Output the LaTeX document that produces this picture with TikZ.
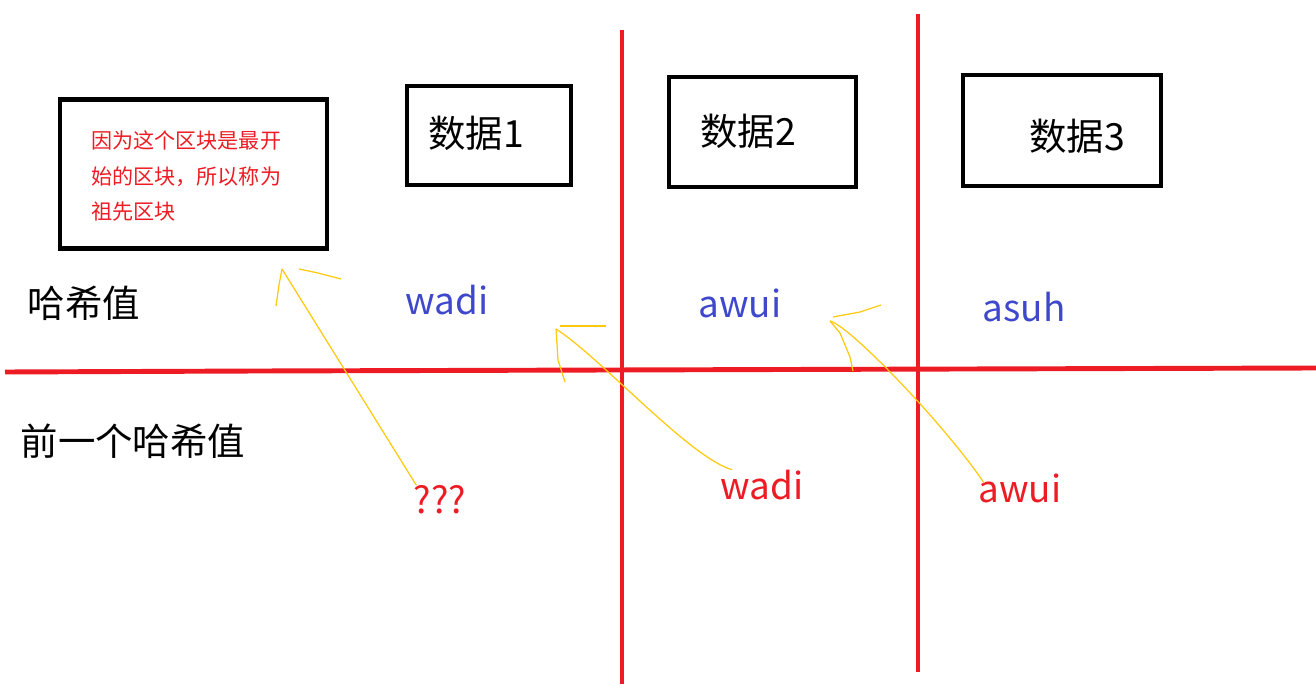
\documentclass[tikz,border=0pt]{standalone}
\usepackage{fontspec}
\setmainfont{Noto Sans CJK SC}
\usetikzlibrary{calc}
\definecolor{paintred}{HTML}{ED1C24}
\definecolor{paintblue}{HTML}{3F48CC}
\definecolor{paintgold}{HTML}{FFC90E}
\tikzset{
	redline/.style={line width=2.8pt,paintred},
	blockbox/.style={draw,line width=2.8pt,inner sep=0pt},
	bigtext/.style={inner sep=0pt,font=\fontsize{21.3}{25}\selectfont},
	hashtext/.style={inner sep=0pt,paintblue,font=\fontsize{21}{25}\selectfont},
	prevtext/.style={inner sep=0pt,paintred,font=\fontsize{21}{25}\selectfont},
	pen/.style={paintgold,line width=0.7pt,line join=round},
}

\begin{document}
\begin{tikzpicture}[x=0.02cm,y=-0.02cm]
	\useasboundingbox (0,0) rectangle (1316,689);
	%lines
	\draw[redline] (5,372)--(258,371)--(1316,368);
	\draw[redline] (622,30)--(622,684);
	\draw[redline] (918,14)--(918,672);
	
	%blocks
	\node[blockbox,minimum width=5.34cm,minimum height=2.98cm] (b0) at (193.5,174) {};
	\node[blockbox,minimum width=3.28cm,minimum height=1.98cm] (b1) at (489,135.5) {};
	\node[blockbox,minimum width=3.74cm,minimum height=2.2cm] (b2) at (762.5,132) {};
	\node[blockbox,minimum width=3.96cm,minimum height=2.22cm] (b3) at (1062,130.5) {};
	%
	\node[inner sep=0pt,anchor=north west,align=left,paintred,font=\fontsize{12}{20.4}\selectfont] (note) at (91,130)
		{因为这个区块是最开\\始的区块，所以称为\\祖先区块};
	\node[bigtext] (d1) at (476,133) {数据1};
	\node[bigtext] (d2) at (748,131) {数据2};
	\node[bigtext] (d3) at (1077,136) {数据3};
	
	%row labels
	\node[bigtext] (hashrow) at (84,303) {哈希值};
	\node[bigtext] (prevrow) at (133,441) {前一个哈希值};
	
	%hashes
	\node[hashtext] (h1) at (447,300) {wadi};
	\node[hashtext] (h2) at (740,303) {awui};
	\node[hashtext] (h3) at (1024,307) {asuh};
	%
	\node[prevtext] (p1) at (440,500) {???};
	\node[prevtext] (p2) at (762,485) {wadi};
	\node[prevtext] (p3) at (1020,488) {awui};
	
	%arrows (hand drawn)
	\coordinate (t1) at (282,269);
	\coordinate (t2) at (556,329);
	\coordinate (t3) at (830,321);
	%
	\draw[pen] ($(p1.north west)+(3,0)$) -- (t1);
	\draw[pen] (t1) -- ++(-3,16) -- ++(-3,21);
	\draw[pen] ($(t1)+(17,0)$) -- ++(19,4) -- ++(23,6);
	%
	\draw[pen] ($(p2.north west)+(12,0)$) .. controls (690,458) and (600,357) .. (t2);
	\draw[pen] (t2) -- ++(2,31) -- ++(7,22);
	\draw[pen] ($(t2)+(4,-3)$) -- ++(46,0);
	%
	\draw[pen] ($(p3.north west)+(6,10)$) .. controls (945,425) and (850,326) .. (t3);
	\draw[pen] (t3) -- ++(10,12) -- ++(10,24) -- ++(3,14);
	\draw[pen] ($(t3)+(3,-4)$) -- ++(27,-5) -- ++(21,-7);
\end{tikzpicture}
\end{document}
